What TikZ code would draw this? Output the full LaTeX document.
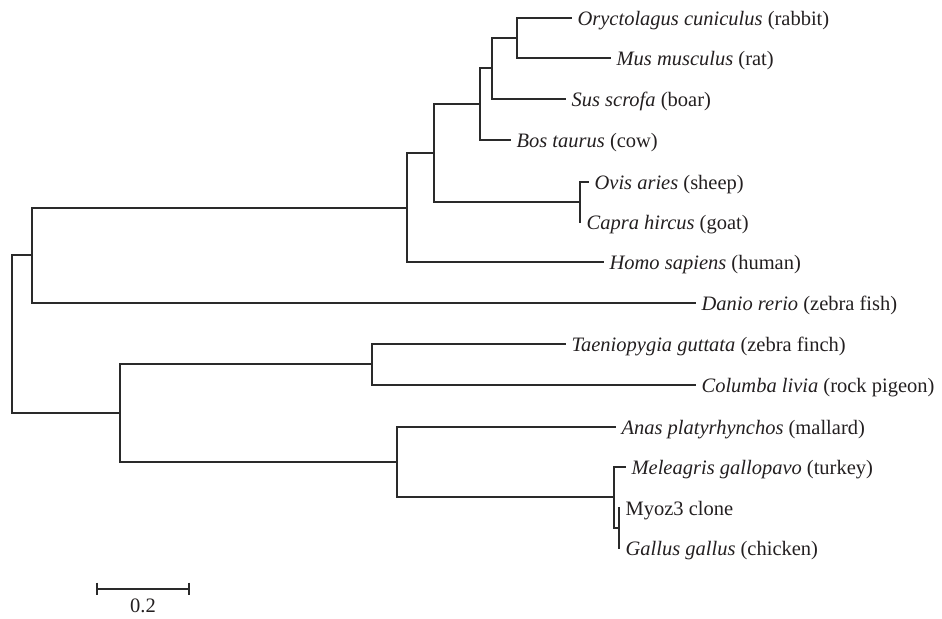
\documentclass[tikz,border=0pt]{standalone}
\usepackage{fontspec}
\setmainfont{Liberation Serif}
\definecolor{treeline}{HTML}{2A2A2A}
\definecolor{labeltext}{HTML}{231F20}
\begin{document}
\begin{tikzpicture}[x=0.5pt,y=-0.5pt,
  branch/.style={draw=treeline, line width=0.7pt, line cap=rect},
  leaf/.style={anchor=west, inner xsep=3.3pt, inner ysep=0pt, outer sep=0pt,
    text=labeltext, font=\fontsize{10.25}{12}\selectfont,
    text height=0.95em, text depth=0.2em},
  scalelabel/.style={anchor=base, inner sep=0pt, text=labeltext, font=\fontsize{10.25}{12}\selectfont}]
\useasboundingbox (0,0) rectangle (942,618);

% leaves
\node[leaf] (rabbit)  at (571,18)  {\textit{Oryctolagus cuniculus} (rabbit)};
\node[leaf] (rat)     at (610,58)  {\textit{Mus musculus} (rat)};
\node[leaf] (boar)    at (565,99)  {\textit{Sus scrofa} (boar)};
\node[leaf] (cow)     at (510,140) {\textit{Bos taurus} (cow)};
\node[leaf] (sheep)   at (588,182) {\textit{Ovis aries} (sheep)};
\node[leaf] (goat)    at (580,222) {\textit{Capra hircus} (goat)};
\node[leaf] (human)   at (603,262) {\textit{Homo sapiens} (human)};
\node[leaf] (fish)    at (695,303) {\textit{Danio rerio} (zebra fish)};
\node[leaf] (finch)   at (565,344) {\textit{Taeniopygia guttata} (zebra finch)};
\node[leaf] (pigeon)  at (695,385) {\textit{Columba livia} (rock pigeon)};
\node[leaf] (mallard) at (615,427) {\textit{Anas platyrhynchos} (mallard)};
\node[leaf] (turkey)  at (625,467) {\textit{Meleagris gallopavo} (turkey)};
\node[leaf] (myoz)    at (619,508) {Myoz3 clone};
\node[leaf] (chicken) at (619,548) {\textit{Gallus gallus} (chicken)};

% internal nodes
\coordinate (nrm)   at (517,38);
\coordinate (nrms)  at (492,68);
\coordinate (nrmsc) at (480,104);
\coordinate (nsg)   at (580,202);
\coordinate (nmam)  at (434,153);
\coordinate (nmh)   at (407,208);
\coordinate (nvert) at (32,255);
\coordinate (nfp)   at (372,364);
\coordinate (nmc)   at (619,528);
\coordinate (ntmc)  at (614,497);
\coordinate (nmal)  at (397,462);
\coordinate (nbird) at (120,413);
\coordinate (root)  at (12,334);

% branches
\draw[branch] (nrm) |- (rabbit.west);
\draw[branch] (nrm) |- (rat.west);
\draw[branch] (nrms) |- (nrm);
\draw[branch] (nrms) |- (boar.west);
\draw[branch] (nrmsc) |- (nrms);
\draw[branch] (nrmsc) |- (cow.west);
\draw[branch] (nsg) |- (sheep.west);
\draw[branch] (nsg) |- (goat.west);
\draw[branch] (nmam) |- (nrmsc);
\draw[branch] (nmam) |- (nsg);
\draw[branch] (nmh) |- (nmam);
\draw[branch] (nmh) |- (human.west);
\draw[branch] (nvert) |- (nmh);
\draw[branch] (nvert) |- (fish.west);
\draw[branch] (nfp) |- (finch.west);
\draw[branch] (nfp) |- (pigeon.west);
\draw[branch] (nmc) |- (myoz.west);
\draw[branch] (nmc) |- (chicken.west);
\draw[branch] (ntmc) |- (turkey.west);
\draw[branch] (ntmc) |- (nmc);
\draw[branch] (nmal) |- (mallard.west);
\draw[branch] (nmal) |- (ntmc);
\draw[branch] (nbird) |- (nfp);
\draw[branch] (nbird) |- (nmal);
\draw[branch] (root) |- (nvert);
\draw[branch] (root) |- (nbird);

% scale bar
\coordinate (sbl) at (97,589);
\coordinate (sbr) at (189,589);
\draw[branch, line cap=butt] (sbl) -- (sbr);
\draw[branch, line cap=butt] ([yshift=3.2pt]sbl) -- ([yshift=-3.2pt]sbl);
\draw[branch, line cap=butt] ([yshift=3.2pt]sbr) -- ([yshift=-3.2pt]sbr);
\node[scalelabel] (sblabel) at (143,612) {0.2};
\end{tikzpicture}
\end{document}
